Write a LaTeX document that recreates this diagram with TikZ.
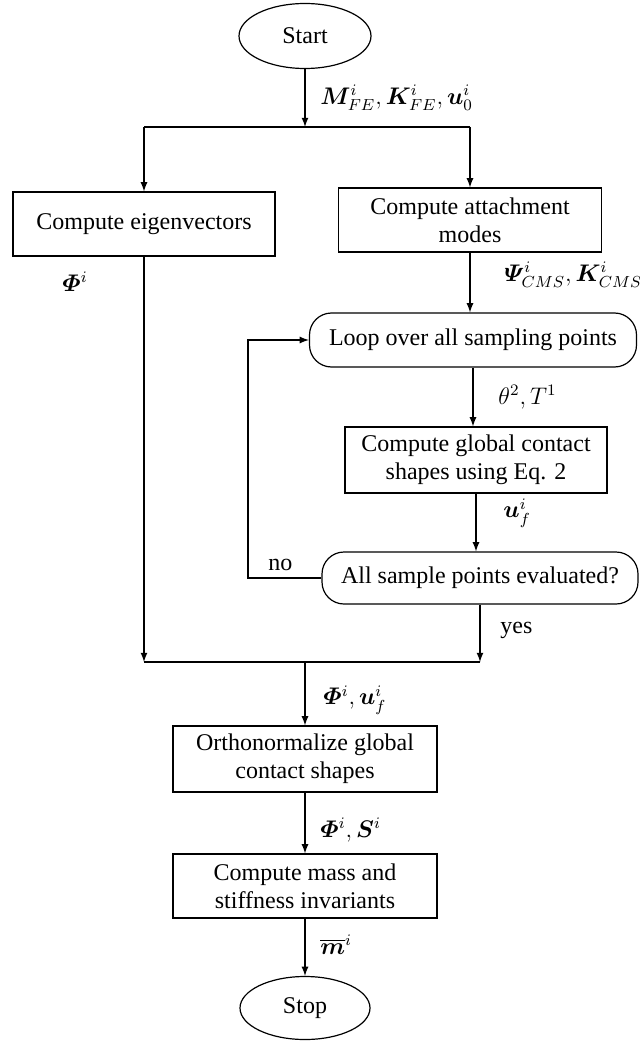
\documentclass[tikz,border=0pt]{standalone}
\usepackage{amsmath}
\usepackage{bm}
\usepackage{fontspec}
\setmainfont{Liberation Serif}
\usetikzlibrary{shapes.geometric}
\begin{document}
\begin{tikzpicture}[x=0.5pt,y=-0.5pt]
	% Styles
	\tikzstyle{fleche}=[->,>=latex,line width=0.6pt]
	\tikzstyle{trait}=[-,line width=0.6pt]
	\tikzstyle{terminal}=[draw,ellipse,line width=0.6pt,inner sep=0pt,font=\fontsize{12}{14}\selectfont]
	\tikzstyle{etape}=[draw,rectangle,line width=0.6pt,align=center,inner sep=0pt,font=\fontsize{12}{14}\selectfont]
	\tikzstyle{boucle}=[etape,rounded corners=11pt]
	\tikzstyle{etiquette}=[anchor=west,inner sep=0pt,font=\fontsize{12}{14}\selectfont]
	% Colonnes
	\def\ColG{144}
	\def\ColM{305}
	\def\ColD{470}
	% Cadre
	\useasboundingbox (0,0) rectangle (639,1043);
	% Noeuds
	\node[terminal,minimum width=66pt,minimum height=32.5pt] (start) at (\ColM,36) {Start};
	\coordinate (hautM) at (\ColM,127);
	\coordinate (hautG) at (\ColG,127);
	\coordinate (hautD) at (\ColD,127);
	\node[etape,minimum width=131pt,minimum height=32pt] (eigen) at (\ColG,224) {Compute eigenvectors};
	\node[etape,minimum width=131.5pt,minimum height=32pt] (attach) at (\ColD,220) {Compute attachment\\modes};
	\node[boucle,minimum width=163.5pt,minimum height=27pt] (loop) at (473,340) {Loop over all sampling points};
	\node[etape,minimum width=131pt,minimum height=33pt] (glob) at (476,460) {Compute global contact\\shapes using Eq. 2};
	\node[boucle,minimum width=158pt,minimum height=26pt] (check) at (480,578) {All sample points evaluated?};
	\coordinate (retourB) at (248,578);
	\coordinate (retourH) at (248,340);
	\coordinate (basG) at (\ColG,662);
	\coordinate (basD) at (480,662);
	\coordinate (basM) at (\ColM,662);
	\node[etape,minimum width=132pt,minimum height=33pt] (ortho) at (\ColM,759) {Orthonormalize global\\contact shapes};
	\node[etape,minimum width=132pt,minimum height=32pt] (mass) at (\ColM,886) {Compute mass and\\stiffness invariants};
	\node[terminal,minimum width=65pt,minimum height=31.5pt] (stop) at (\ColM,1008) {Stop};
	% Etiquettes
	\node[etiquette] (lbM) at (320,98) {$\bm{M}^{i}_{FE},\bm{K}^{i}_{FE},\bm{u}^{i}_{0}$};
	\node[etiquette] (lbPhiG) at (62,282) {$\bm{\varPhi}^{i}$};
	\node[etiquette] (lbPsi) at (504,275) {$\bm{\varPsi}^{i}_{CMS},\bm{K}^{i}_{CMS}$};
	\node[etiquette] (lbTheta) at (498,397) {$\theta^{2},T^{1}$};
	\node[etiquette] (lbUf) at (503,513) {$\bm{u}^{i}_{f}$};
	\node[etiquette] (lbNo) at (268,565) {no};
	\node[etiquette] (lbYes) at (500,630) {yes};
	\node[etiquette] (lbPhiU) at (323,700) {$\bm{\varPhi}^{i},\bm{u}^{i}_{f}$};
	\node[etiquette] (lbPhiS) at (320,830) {$\bm{\varPhi}^{i},\bm{S}^{i}$};
	\node[etiquette] (lbMbar) at (320,945) {$\overline{\bm{m}}^{i}$};
	% Arcs
	\draw[fleche] (start.south)--(hautM);
	\draw[trait] (hautG)--(hautD);
	\draw[fleche] (hautG)--(eigen.north);
	\draw[fleche] (hautD)--(attach.north);
	\draw[fleche] (attach.south)--(attach.south |- loop.north);
	\draw[fleche] (loop.south)--(loop.south |- glob.north);
	\draw[fleche] (glob.south)--(glob.south |- check.north);
	\draw[fleche] (check.west)--(retourB)--(retourH)--(loop.west);
	\draw[fleche] (eigen.south)--(basG);
	\draw[fleche] (check.south)--(basD);
	\draw[trait] (basG)--(basD);
	\draw[fleche] (basM)--(ortho.north);
	\draw[fleche] (ortho.south)--(mass.north);
	\draw[fleche] (mass.south)--(stop.north);
\end{tikzpicture}
\end{document}
